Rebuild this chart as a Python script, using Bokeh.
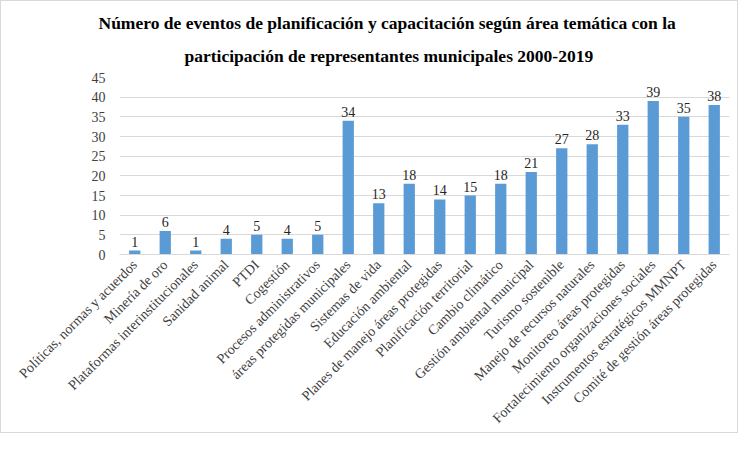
import math
from bokeh.plotting import figure
from bokeh.models import ColumnDataSource, LabelSet, FactorRange, Range1d, Title
from bokeh.embed import file_html
from bokeh.resources import INLINE

categories = [
    "Políticas, normas y acuerdos", "Minería de oro", "Plataformas interinstitucionales",
    "Sanidad animal", "PTDI", "Cogestión", "Procesos administrativos",
    "áreas protegidas municipales", "Sistemas de vida", "Educación ambiental",
    "Planes de manejo áreas protegidas", "Planificación territorial", "Cambio climático",
    "Gestión ambiental municipal", "Turismo sostenible", "Manejo de recursos naturales",
    "Monitoreo áreas protegidas", "Fortalecimiento organizaciones sociales",
    "Instrumentos estratégicos MMNPT", "Comité de gestión áreas protegidas",
]
values = [1, 6, 1, 4, 5, 4, 5, 34, 13, 18, 14, 15, 18, 21, 27, 28, 33, 39, 35, 38]
y_ticks = [0, 5, 10, 15, 20, 25, 30, 35, 40, 45]
title_lines = [
    "Número de eventos de planificación y capacitación según área temática con la",
    "participación de representantes municipales 2000-2019",
]

FONT = "Liberation Serif"

src = ColumnDataSource(dict(cat=categories, val=values, lab=[str(v) for v in values]))

p = figure(width=738, height=433, x_range=FactorRange(*categories),
           y_range=Range1d(0, 45), output_backend="svg", toolbar_location=None,
           min_border_left=118, min_border_right=10, min_border_bottom=120, min_border_top=76)

p.title.text = title_lines[0]
p.title.text_font = FONT
p.title.text_font_size = "17.5px"
p.title.text_font_style = "bold"
p.title.align = "left"
p.title.offset = -21
p.title.text_color = "#000000"
p.title.standoff = 0
t2 = Title(text=title_lines[1], text_font=FONT, text_font_size="17.5px", text_font_style="bold",
           align="left", offset=65, text_color="#000000", standoff=23)
p.add_layout(t2, "above")

p.vbar(x="cat", top="val", width=0.37, source=src, color="#5b9bd5", line_color=None)

labels = LabelSet(x="cat", y="val", text="lab", source=src, text_align="center",
                  text_baseline="bottom", y_offset=4, text_font=FONT, text_font_size="14px",
                  text_color="#262626")
p.add_layout(labels)

p.yaxis.ticker = y_ticks
p.yaxis.axis_line_color = None
p.yaxis.major_tick_line_color = None
p.yaxis.minor_tick_line_color = None
p.yaxis.major_label_text_font = FONT
p.yaxis.major_label_text_font_size = "14px"
p.yaxis.major_label_text_color = "#404040"
p.yaxis.major_label_standoff = 8

p.xaxis.axis_line_color = "#d9d9d9"
p.xaxis.major_tick_line_color = None
p.xaxis.minor_tick_line_color = None
p.xaxis.major_label_orientation = math.pi / 4
p.xaxis.major_label_text_font = FONT
p.xaxis.major_label_text_font_size = "14px"
p.xaxis.major_label_standoff = 2
p.xaxis.major_label_text_color = "#404040"

p.xgrid.grid_line_color = None
p.ygrid.grid_line_color = "#d9d9d9"
p.outline_line_color = None
p.styles = {"border": "1px solid #d9d9d9"}

open("out.html", "w").write(file_html(p, INLINE))
